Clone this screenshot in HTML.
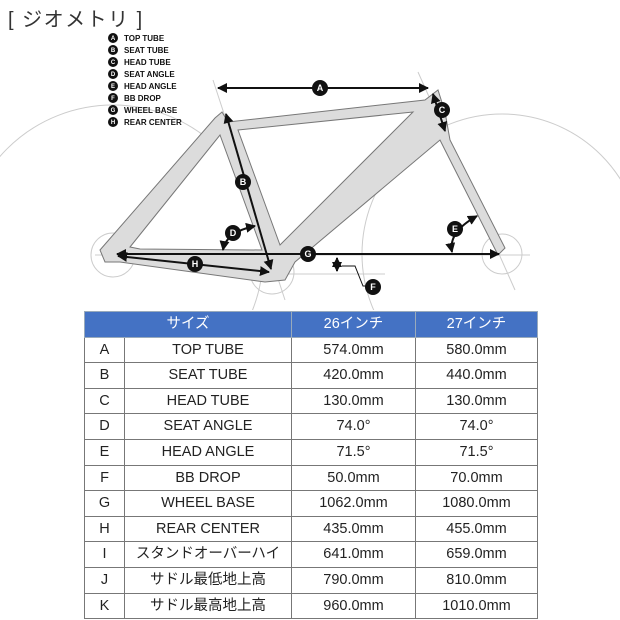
<!DOCTYPE html>
<html><head><meta charset="utf-8"><style>
body{margin:0;background:#fff;width:620px;height:620px;overflow:hidden;font-family:"Liberation Sans","Noto Sans CJK JP",sans-serif;}
.t{position:absolute;left:8px;top:3px;font-size:20px;color:#333;letter-spacing:1.5px}
table{position:absolute;left:84px;top:311px;border-collapse:collapse;font-family:"Liberation Sans","Noto Sans CJK JP",sans-serif;font-size:14.5px;color:#222}
td{border:1px solid #777;height:24.6px;padding:0;text-align:center;line-height:1}
tr.h td{background:#4472c4;color:#fff;border-color:#9ab}
</style></head><body>
<div class="t">[ ジオメトリ ]</div>
<svg width="620" height="310" style="position:absolute;left:0;top:0" font-family="Liberation Sans,sans-serif">
<defs><marker id="m" viewBox="0 0 10 10" refX="9" refY="5" markerWidth="5" markerHeight="5" orient="auto-start-reverse"><path d="M0,0L10,5L0,10z" fill="#111"/></marker></defs>
<g fill="none" stroke="#ccc" stroke-width="1">
<circle cx="113" cy="255" r="150"/><circle cx="502" cy="254" r="140"/>
<circle cx="113" cy="255" r="22"/><circle cx="502" cy="254" r="20"/><circle cx="272" cy="272" r="22"/>
<line x1="95" y1="255" x2="530" y2="255"/><line x1="250" y1="274" x2="385" y2="274"/>
<line x1="213" y1="80" x2="285" y2="300"/><line x1="418" y1="72" x2="515" y2="290"/>
</g>
<g fill="#dcdcdc" stroke="#777" stroke-width="1">
<path d="M100,250 L215,118 L222,112 L228,122 L425,100 L438,90 L445,112 L450,140 L505,248 L498,255 L445,150 L440,140 L295,262 L285,280 L265,282 L120,262 L105,262 Z"/>
</g>
<g fill="#fff" stroke="#777">
<path d="M130,247 L220,135 L262,250 L140,249 Z"/>
<path d="M238,130 L413,112 L280,245 Z"/>
</g>
<g stroke="#111" stroke-width="2" marker-start="url(#m)" marker-end="url(#m)" fill="none">
<line x1="218" y1="88" x2="428" y2="88"/>
<line x1="433" y1="94" x2="445" y2="131"/>
<line x1="226" y1="114" x2="271" y2="269"/>
<line x1="117" y1="254" x2="499" y2="254"/>
<line x1="118" y1="256" x2="269" y2="272"/>
<path d="M223,250 Q226,232 255,226"/>
<path d="M452,252 Q448,232 477,216"/>
<line x1="337" y1="258" x2="337" y2="271"/>
</g>
<path d="M342,266 L355,266 L363,286 L370,286" stroke="#111" fill="none"/>
<g font-size="9" font-weight="bold" text-anchor="middle" fill="#fff">
<circle cx="320" cy="88" r="8" fill="#111"/><text x="320" y="91">A</text>
<circle cx="243" cy="182" r="8" fill="#111"/><text x="243" y="185">B</text>
<circle cx="442" cy="110" r="8" fill="#111"/><text x="442" y="113">C</text>
<circle cx="233" cy="233" r="8" fill="#111"/><text x="233" y="236">D</text>
<circle cx="455" cy="229" r="8" fill="#111"/><text x="455" y="232">E</text>
<circle cx="373" cy="287" r="8" fill="#111"/><text x="373" y="290">F</text>
<circle cx="308" cy="254" r="8" fill="#111"/><text x="308" y="257">G</text>
<circle cx="195" cy="264" r="8" fill="#111"/><text x="195" y="267">H</text>
</g>
<g font-size="8" font-weight="bold" fill="#111">
<g text-anchor="middle" fill="#fff" font-size="6">
<circle cx="113" cy="38" r="5" fill="#111"/><text x="113" y="40">A</text>
<circle cx="113" cy="50" r="5" fill="#111"/><text x="113" y="52">B</text>
<circle cx="113" cy="62" r="5" fill="#111"/><text x="113" y="64">C</text>
<circle cx="113" cy="74" r="5" fill="#111"/><text x="113" y="76">D</text>
<circle cx="113" cy="86" r="5" fill="#111"/><text x="113" y="88">E</text>
<circle cx="113" cy="98" r="5" fill="#111"/><text x="113" y="100">F</text>
<circle cx="113" cy="110" r="5" fill="#111"/><text x="113" y="112">G</text>
<circle cx="113" cy="122" r="5" fill="#111"/><text x="113" y="124">H</text>
</g>
<text x="124" y="41">TOP TUBE</text><text x="124" y="53">SEAT TUBE</text><text x="124" y="65">HEAD TUBE</text><text x="124" y="77">SEAT ANGLE</text><text x="124" y="89">HEAD ANGLE</text><text x="124" y="101">BB DROP</text><text x="124" y="113">WHEEL BASE</text><text x="124" y="125">REAR CENTER</text>
</g>
</svg>
<table>
<tr class="h"><td colspan="2" style="width:206px">サイズ</td><td style="width:123px">26インチ</td><td style="width:121px">27インチ</td></tr>
<tr><td style="width:39px">A</td><td>TOP TUBE</td><td>574.0mm</td><td>580.0mm</td></tr>
<tr><td>B</td><td>SEAT TUBE</td><td>420.0mm</td><td>440.0mm</td></tr>
<tr><td>C</td><td>HEAD TUBE</td><td>130.0mm</td><td>130.0mm</td></tr>
<tr><td>D</td><td>SEAT ANGLE</td><td>74.0°</td><td>74.0°</td></tr>
<tr><td>E</td><td>HEAD ANGLE</td><td>71.5°</td><td>71.5°</td></tr>
<tr><td>F</td><td>BB DROP</td><td>50.0mm</td><td>70.0mm</td></tr>
<tr><td>G</td><td>WHEEL BASE</td><td>1062.0mm</td><td>1080.0mm</td></tr>
<tr><td>H</td><td>REAR CENTER</td><td>435.0mm</td><td>455.0mm</td></tr>
<tr><td>I</td><td>スタンドオーバーハイ</td><td>641.0mm</td><td>659.0mm</td></tr>
<tr><td>J</td><td>サドル最低地上高</td><td>790.0mm</td><td>810.0mm</td></tr>
<tr><td>K</td><td>サドル最高地上高</td><td>960.0mm</td><td>1010.0mm</td></tr>
</table>
</body></html>
